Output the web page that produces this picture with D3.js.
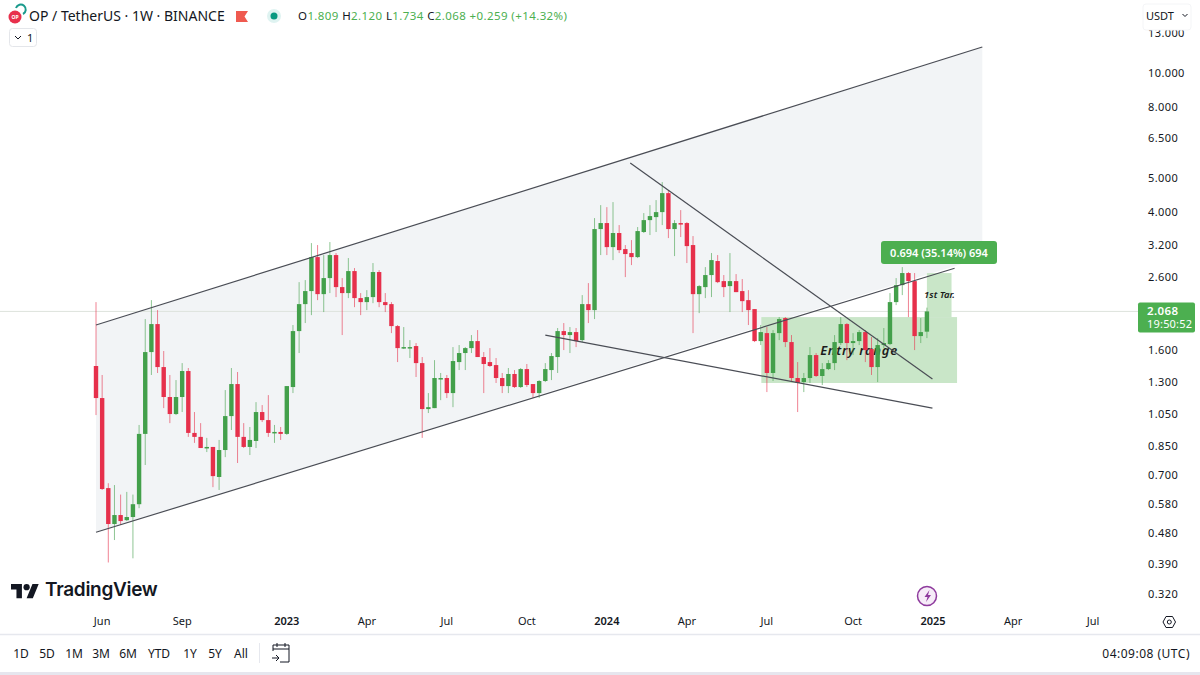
<!DOCTYPE html>
<html>
<head>
<meta charset="utf-8">
<script src="https://cdn.jsdelivr.net/npm/d3@7"></script>
<style>
  html, body { margin: 0; padding: 0; background: #fff; }
  svg { display: block; font-family: "Noto Sans", sans-serif; }
</style>
</head>
<body>
<div id="canvas"></div>
<script>
// weekly candles, first one is the week of 30 May 2022
const opens = [1.442,1.167,.644,.508,.539,.521,.532,.579,.921,1.581,1.902,1.432,1.175,1.05,1.175,1.395,.927,.903,.839,.845,.693,.828,1.036,1.28,.903,.845,.879,1.064,1.009,.927,.933,.921,1.255,1.816,2.17,2.365,2.96,2.318,2.577,3,2.428,2.334,2.699,2.258,2.199,2.273,2.682,2.199,2.17,1.877,1.623,1.623,1.645,1.47,1.085,1.092,1.323,1.332,1.206,1.48,1.571,1.623,1.7,1.53,1.48,1.451,1.332,1.263,1.368,1.255,1.413,1.28,1.206,1.306,1.404,1.53,1.816,1.769,1.804,1.711,2.17,2.086,3.562,3.706,3.162,3.47,3.121,3.04,2.96,3.493,3.779,3.855,3.984,4.516,3.562,3.706,3.706,3.205,2.318,2.428,2.629,2.884,2.526,2.444,2.526,2.365,2.228,2.1,1.7,1.792,1.377,1.792,1.979,1.689,1.332,1.297,1.332,1.55,1.35,1.413,1.47,1.678,1.902,1.678,1.7,1.804,1.613,1.432,1.656,1.667,2.199,2.46,2.664,2.526,1.757,1.809];
const highs = [2.199,1.359,.665,.657,.617,.628,.617,.977,1.966,2.228,2.086,1.592,1.359,1.314,1.47,1.423,1.064,.989,.897,.845,.885,1.23,1.423,1.386,.989,.964,1.136,1.114,1.19,.977,.964,1.263,1.89,2.509,2.543,3.247,3.205,3,3.269,3.04,2.577,2.941,2.753,2.334,2.38,2.846,2.716,2.334,2.199,1.89,1.865,1.711,1.678,1.53,1.206,1.499,1.377,1.359,1.634,1.656,1.634,1.769,1.828,1.581,1.623,1.52,1.377,1.423,1.404,1.423,1.461,1.28,1.314,1.47,1.571,1.853,1.915,1.865,1.853,2.303,2.493,3.83,4.172,4.117,4.256,3.657,3.205,3.312,3.609,3.958,4.172,4.313,4.858,4.608,3.779,4.037,3.73,3.401,2.46,2.771,3.04,3,2.629,3.04,2.646,2.56,2.38,2.1,1.89,1.865,1.828,1.992,1.992,1.769,1.48,1.377,1.634,1.571,1.47,1.499,1.769,1.992,1.915,1.792,1.828,1.828,1.746,1.734,1.853,2.334,2.577,2.771,2.682,2.664,1.979,2.12];
const lows = [1.043,.636,.394,.457,.505,.518,.405,.564,.75,1.359,1.377,1.092,.989,1.043,1.064,.903,.868,.839,.817,.648,.636,.79,.945,.76,.839,.801,.839,.996,.903,.868,.885,.915,1.206,1.571,1.915,2.018,2.228,2.059,2.334,2.273,1.769,2.258,2.127,2.018,2.086,2.184,2.127,2.059,1.792,1.48,1.613,1.52,1.341,.897,1.057,1.092,1.151,1.167,1.099,1.404,1.404,1.571,1.53,1.206,1.432,1.289,1.206,1.206,1.247,1.247,1.255,1.167,1.167,1.297,1.314,1.377,1.602,1.571,1.634,1.689,1.915,1.966,3,3,2.902,3.04,2.594,2.808,2.941,3.47,3.424,3.493,3.657,3.356,2.98,3.379,2.846,1.792,2.045,2.258,2.273,2.493,2.273,2.059,2.349,2.059,1.89,1.689,1.656,1.214,1.306,1.711,1.634,1.297,1.064,1.214,1.289,1.341,1.272,1.404,1.404,1.656,1.499,1.55,1.656,1.48,1.359,1.297,1.623,1.656,2.156,2.303,1.992,1.602,1.678,1.734];
const closes = [1.167,.64,.508,.539,.518,.532,.579,.921,1.581,1.902,1.432,1.175,1.05,1.175,1.395,.927,.903,.839,.845,.697,.828,1.036,1.28,.903,.845,.885,1.064,1.009,.927,.933,.921,1.263,1.816,2.17,2.365,2.96,2.318,2.577,3,2.428,2.334,2.699,2.258,2.199,2.273,2.682,2.199,2.156,1.877,1.623,1.634,1.634,1.47,1.085,1.099,1.332,1.332,1.206,1.49,1.571,1.623,1.7,1.53,1.461,1.442,1.332,1.263,1.368,1.255,1.413,1.272,1.206,1.306,1.413,1.54,1.816,1.769,1.804,1.7,2.17,2.086,3.562,3.706,3.162,3.47,3.1,3.02,2.96,3.515,3.779,3.881,3.984,4.516,3.562,3.706,3.681,3.183,2.318,2.444,2.629,2.902,2.509,2.428,2.526,2.349,2.213,2.086,1.7,1.804,1.377,1.792,1.966,1.689,1.332,1.289,1.332,1.55,1.35,1.413,1.47,1.689,1.902,1.678,1.7,1.804,1.602,1.432,1.656,1.678,2.199,2.46,2.664,2.526,1.757,1.804,2.068];

const priceTicks = [13, 10, 8, 6.5, 5, 4, 3.2, 2.6, 1.6, 1.3, 1.05, .85, .7, .58, .48, .39, .32];
const timeTickWeeks = [1, 14, 31, 44, 57, 70, 83, 96, 109, 123, 136, 149, 162];
const timeTickLabels = ["Jun", "Sep", "2023", "Apr", "Jul", "Oct", "2024", "Apr", "Jul", "Oct", "2025", "Apr", "Jul"];
const rangeButtons = ["1D", "5D", "1M", "3M", "6M", "YTD", "1Y", "5Y", "All"];

// drawings as [week, price]
const channelUpper = [[0, 1.89], [144, 11.85]];
const channelLower = [[0, .481], [139.5, 2.75]];
const channelLowerFill = [144, 2.95];
const wedgeUpper = [[86.8, 5.51], [135.9, 1.323]];
const wedgeLower = [[73, 1.769], [135.9, 1.092]];
const entryBox = [[108.1, 1.992], [139.9, 1.289]];
const targetBox = [[135, 2.664], [139, 1.992]];
const lastPrice = 2.068;

const RED = "#e6304b", GREEN = "#43a04b", INK = "#131722";

const svg = d3.select("#canvas").append("svg").attr("width", 1200).attr("height", 675);

const x = d3.scaleLinear().domain([0, 144]).range([96, 982.3]);
const y = d3.scaleLog().domain([13, .32]).range([33, 594]);
const line = d3.line().x(d => x(d[0])).y(d => y(d[1]));

// channel fill
svg.append("path")
  .attr("d", line([channelUpper[0], channelUpper[1], channelLowerFill, channelLower[0]]) + "Z")
  .attr("fill", "#f2f4f6");

// last price line
svg.append("line")
  .attr("x1", 0).attr("x2", 1138)
  .attr("y1", y(lastPrice)).attr("y2", y(lastPrice))
  .attr("stroke", "#dde3dc").attr("stroke-width", 1);

// entry and target boxes
svg.selectAll("rect.zone")
  .data([entryBox, targetBox])
  .enter().append("rect")
    .attr("class", "zone")
    .attr("x", d => x(d[0][0]))
    .attr("y", d => y(d[0][1]))
    .attr("width", d => x(d[1][0]) - x(d[0][0]))
    .attr("height", d => y(d[1][1]) - y(d[0][1]))
    .attr("fill", "#c9e6c8");

svg.append("text")
  .attr("x", 859).attr("y", 355)
  .attr("text-anchor", "middle")
  .attr("font-size", 13).attr("font-style", "italic").attr("font-weight", 600)
  .attr("letter-spacing", .7)
  .attr("fill", "#1c1c1c")
  .text("Entry range");

svg.append("text")
  .attr("x", 939.5).attr("y", 298)
  .attr("text-anchor", "middle")
  .attr("font-size", 9.5).attr("font-style", "italic").attr("font-weight", 600)
  .attr("fill", "#1c1c1c")
  .text("1st Tar.");

// candles
const candles = svg.append("g").selectAll("g")
  .data(d3.range(opens.length))
  .enter().append("g")
    .attr("fill", i => closes[i] >= opens[i] ? GREEN : RED)
    .attr("stroke", i => closes[i] >= opens[i] ? GREEN : RED);

candles.append("line")
  .attr("x1", i => x(i)).attr("x2", i => x(i))
  .attr("y1", i => y(highs[i])).attr("y2", i => y(lows[i]))
  .attr("stroke-width", 1).attr("stroke-opacity", .6);

candles.append("rect")
  .attr("x", i => x(i) - 2.2)
  .attr("width", 4.4)
  .attr("y", i => y(Math.max(opens[i], closes[i])))
  .attr("height", i => Math.max(1.5, Math.abs(y(opens[i]) - y(closes[i]))))
  .attr("stroke", "none");

// trend lines
svg.selectAll("path.trend")
  .data([channelUpper, channelLower, wedgeUpper, wedgeLower])
  .enter().append("path")
    .attr("class", "trend")
    .attr("d", line)
    .attr("fill", "none")
    .attr("stroke", "#4a4d55")
    .attr("stroke-width", 1.2);

// measure label
svg.append("rect")
  .attr("x", 881).attr("y", 241).attr("width", 116).attr("height", 23).attr("rx", 3)
  .attr("fill", "#4caf50");
svg.append("text")
  .attr("x", 939).attr("y", 256.5)
  .attr("text-anchor", "middle")
  .attr("font-size", 11).attr("font-weight", 600).attr("fill", "#fff")
  .text("0.694 (35.14%) 694");

// price axis
const yAxis = d3.axisRight(y)
  .tickValues(priceTicks)
  .tickFormat(d3.format(".3f"))
  .tickSize(0)
  .tickPadding(0);

const yAxisG = svg.append("g").attr("transform", "translate(1148,0)").call(yAxis);
yAxisG.select(".domain").remove();
yAxisG.selectAll("text")
  .attr("font-family", "\"Noto Sans\", sans-serif")
  .attr("font-size", 11).attr("letter-spacing", .4).attr("fill", INK);

// last price tag
svg.append("rect")
  .attr("x", 1138).attr("y", y(lastPrice) - 9).attr("width", 57).attr("height", 30).attr("rx", 2)
  .attr("fill", "#4caf50");
svg.append("text")
  .attr("x", 1147).attr("y", y(lastPrice) + 4)
  .attr("font-size", 11.5).attr("font-weight", 600).attr("letter-spacing", .4).attr("fill", "#fff")
  .text(d3.format(".3f")(lastPrice));
svg.append("text")
  .attr("x", 1147).attr("y", y(lastPrice) + 17)
  .attr("font-size", 11).attr("letter-spacing", .2).attr("fill", "#fff")
  .text("19:50:52");

// time axis
const xAxis = d3.axisBottom(x)
  .tickValues(timeTickWeeks)
  .tickFormat((d, i) => timeTickLabels[i])
  .tickSize(0)
  .tickPadding(0);

const xAxisG = svg.append("g").attr("transform", "translate(-.5,617)").call(xAxis);
xAxisG.select(".domain").remove();
xAxisG.selectAll("text")
  .attr("font-family", "\"Noto Sans\", sans-serif")
  .attr("font-size", 11)
  .attr("font-weight", (d, i) => /^\d/.test(timeTickLabels[i]) ? 600 : 400)
  .attr("fill", INK);

// header
svg.append("path")
  .attr("d", "M16 8 A5 5 0 1 1 23 14")
  .attr("fill", "none").attr("stroke", "#1a9a8c").attr("stroke-width", 2);
svg.append("circle").attr("cx", 15).attr("cy", 17).attr("r", 6.5).attr("fill", "#e8304c");
svg.append("text")
  .attr("x", 15).attr("y", 19)
  .attr("text-anchor", "middle").attr("font-size", 5).attr("font-weight", 700).attr("fill", "#fff")
  .text("OP");
svg.append("text")
  .attr("x", 29).attr("y", 21)
  .attr("font-size", 14).attr("fill", INK)
  .text("OP / TetherUS · 1W · BINANCE");
svg.append("path")
  .attr("d", "M236 11H248L244.5 16.5L248 22H236Z")
  .attr("fill", "#ef5a50");
svg.append("circle").attr("cx", 274).attr("cy", 16).attr("r", 7).attr("fill", "#dff3f1");
svg.append("circle").attr("cx", 274).attr("cy", 16).attr("r", 3.5).attr("fill", "#089981");

const ohlcText = svg.append("text")
  .attr("x", 298).attr("y", 20).attr("font-size", 11.5).attr("letter-spacing", .4).attr("fill", "#4caf50");
[["O", "1.809 "], ["H", "2.120 "], ["L", "1.734 "], ["C", "2.068 "]].forEach(p => {
  ohlcText.append("tspan").attr("fill", INK).text(p[0]);
  ohlcText.append("tspan").text(p[1]);
});
ohlcText.append("tspan").text("+0.259 (+14.32%)");

svg.append("rect")
  .attr("x", 9.5).attr("y", 28.5).attr("width", 27).attr("height", 18).attr("rx", 3)
  .attr("fill", "#fff").attr("stroke", "#e4e6ea");
svg.append("path")
  .attr("d", "M15 36l3 3l3-3")
  .attr("fill", "none").attr("stroke", INK).attr("stroke-width", 1);
svg.append("text")
  .attr("x", 27).attr("y", 42).attr("font-size", 11).attr("fill", INK).text("1");

// currency selector sits over the top tick
svg.append("rect")
  .attr("x", 1143).attr("y", 4).attr("width", 48).attr("height", 26).attr("rx", 3)
  .attr("fill", "#fff").attr("stroke", "#f4f5f7");
svg.append("text")
  .attr("x", 1146).attr("y", 19.5).attr("font-size", 11).attr("fill", INK).text("USDT");
svg.append("path")
  .attr("d", "M1187.5 14l-2.5 2.5l-2.5-2.5")
  .attr("fill", "none").attr("stroke", INK).attr("stroke-width", 1);

// logo
const logo = svg.append("g").attr("transform", "translate(11,581) scale(.78)").attr("fill", "#131722");
logo.append("path").attr("d", "M14 22H7V11H0V4h14v18zM28 22h-8l7.5-18h8L28 22z");
logo.append("circle").attr("cx", 20).attr("cy", 8).attr("r", 4);
svg.append("text")
  .attr("x", 45).attr("y", 596)
  .attr("font-family", "Inter, sans-serif")
  .attr("font-size", 19).attr("font-weight", 600).attr("letter-spacing", -.3).attr("fill", "#131722")
  .text("TradingView");

// lightning icon
svg.append("circle")
  .attr("cx", 927).attr("cy", 596).attr("r", 9.5)
  .attr("fill", "#f6ecf8").attr("stroke", "#8e3a9d").attr("stroke-width", 1.5);
svg.append("path")
  .attr("d", "M929.5 590l-5 7h3l-1.5 5l5-7h-3z")
  .attr("fill", "#8e3a9d");

// settings icon
svg.append("path")
  .attr("d", "M1163 622l3-5.5h6.5l3 5.5l-3 5.5h-6.5z")
  .attr("fill", "none").attr("stroke", INK).attr("stroke-width", 1);
svg.append("circle")
  .attr("cx", 1169.3).attr("cy", 622).attr("r", 2)
  .attr("fill", "none").attr("stroke", INK).attr("stroke-width", 1);

// bottom toolbar
svg.append("line")
  .attr("x1", 0).attr("x2", 1200).attr("y1", 634.5).attr("y2", 634.5)
  .attr("stroke", "#e6e8ee").attr("stroke-width", 1.5);
svg.append("rect")
  .attr("x", 0).attr("y", 672).attr("width", 1200).attr("height", 3)
  .attr("fill", "#e6e6ee");

const buttonCenters = d3.scaleOrdinal().domain(rangeButtons).range([21, 47, 74, 101, 128, 159, 190, 215, 241]);
svg.selectAll("text.range")
  .data(rangeButtons)
  .enter().append("text")
    .attr("class", "range")
    .attr("x", d => buttonCenters(d))
    .attr("y", 658)
    .attr("text-anchor", "middle")
    .attr("font-size", 12)
    .attr("fill", INK)
    .text(d => d);

svg.append("line")
  .attr("x1", 259.5).attr("x2", 259.5).attr("y1", 643).attr("y2", 663)
  .attr("stroke", "#e6e8ee");
svg.append("path")
  .attr("d", "M273 651v-6h16v17h-9M273 649h16M277 643v4M285 643v4M272 658h7M276 655l3 3l-3 3")
  .attr("fill", "none").attr("stroke", INK).attr("stroke-width", 1);

svg.append("text")
  .attr("x", 1190).attr("y", 658)
  .attr("text-anchor", "end")
  .attr("font-size", 12).attr("letter-spacing", .5).attr("fill", INK)
  .text("04:09:08 (UTC)");
</script>
</body>
</html>
